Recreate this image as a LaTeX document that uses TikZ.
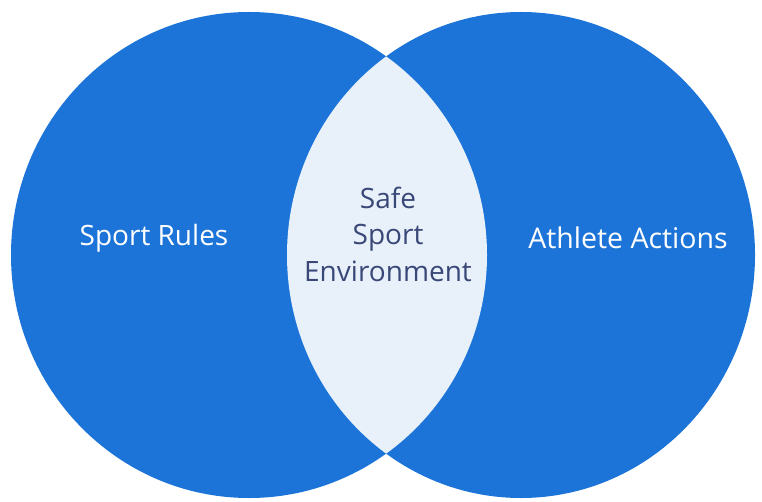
\documentclass[tikz,border=0pt]{standalone}
\usepackage{fontspec}
\setmainfont{Open Sans}
\usepackage{xcolor}
\definecolor{setblue}{HTML}{1C74D8}
\definecolor{lensfill}{HTML}{E8F1FA}
\definecolor{lenstext}{HTML}{3A4878}

\begin{document}
\begin{tikzpicture}[x=1pt,y=-1pt]
\useasboundingbox (0,0) rectangle (762,502);

% Sets
\fill[setblue] (249,255) ellipse [x radius=238, y radius=243];
\fill[setblue] (521,255) ellipse [x radius=234, y radius=243];

% Overlap
\begin{scope}
  \clip (249,255) ellipse [x radius=238, y radius=243];
  \fill[lensfill] (521,255) ellipse [x radius=234, y radius=243];
\end{scope}

% Labels
\node[white,font=\fontsize{28}{34}\selectfont] (rules) at (154,238) {Sport Rules};
\node[white,font=\fontsize{28.5}{34}\selectfont] (actions) at (628,238) {Athlete Actions};
\node[lenstext,align=center,font=\fontsize{28}{36.5}\selectfont] (safe) at (388,234) {Safe\\Sport\\Environment};
\end{tikzpicture}
\end{document}
